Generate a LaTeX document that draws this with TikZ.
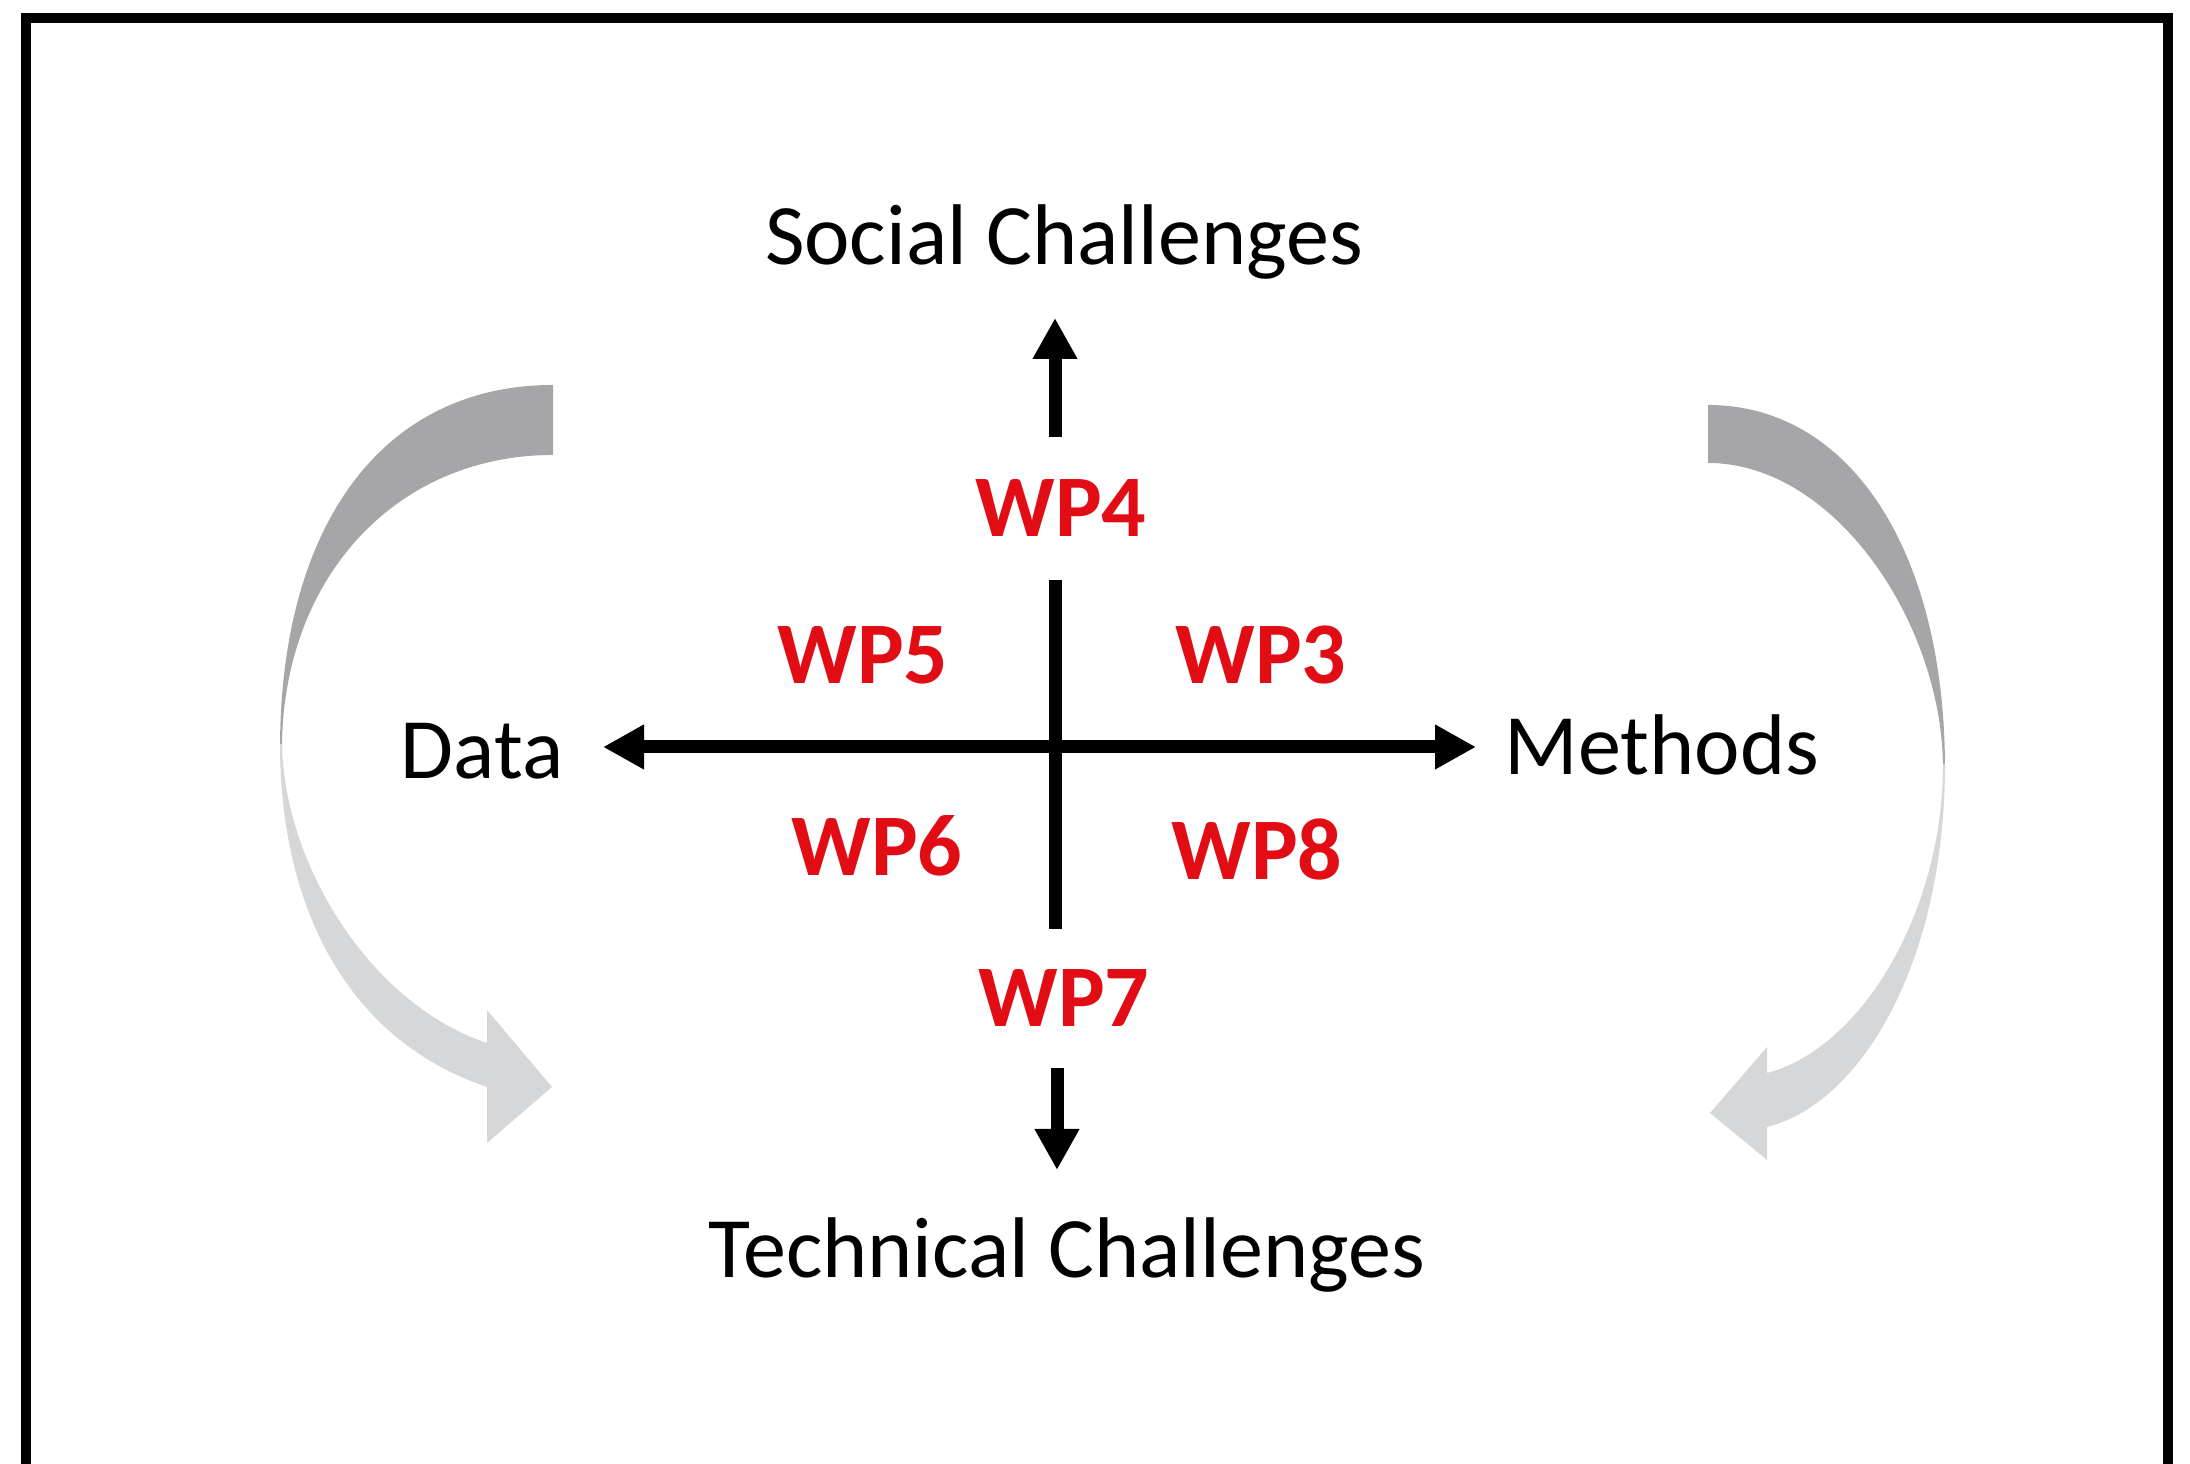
\documentclass[tikz,border=0pt]{standalone}
\usepackage{fontspec}
\setmainfont{Carlito}
\usetikzlibrary{arrows.meta}
\usetikzlibrary{positioning}
\definecolor{wpred}{RGB}{225,12,20}
\definecolor{darkband}{RGB}{166,166,168}
\definecolor{lightband}{RGB}{214,215,217}

\begin{document}
\begin{tikzpicture}[>={Triangle[width=4.2mm,length=4.1mm]},line width=1.3mm]
	\tikzstyle{axis label}=[font=\fontsize{24.5}{29}\selectfont,anchor=base,inner sep=0pt]
	\tikzstyle{wp}=[font=\fontsize{25}{30}\selectfont\bfseries,text=wpred,anchor=base,inner sep=0pt]

	\useasboundingbox (0,0) rectangle (21.9,14.64);
	\clip (0,0) rectangle (21.9,14.64);
	\draw[line width=1mm] (0.26,-1) rectangle (21.68,14.46);

	% left curved arrow
	\fill[darkband] (5.53,10.79) .. controls (3.84,10.79) and (2.80,9.41) .. (2.80,7.15)
		-- (2.82,7.15) .. controls (2.82,8.85) and (3.95,10.09) .. (5.53,10.09) -- cycle;
	\fill[lightband] (2.80,7.2) .. controls (2.80,5.6) and (3.45,4.25) .. (4.87,3.77)
		-- (4.87,3.21) -- (5.52,3.77) -- (4.87,4.54) -- (4.87,4.21)
		.. controls (3.70,4.60) and (2.84,6.00) .. (2.82,7.2) -- cycle;

	% right curved arrow
	\fill[darkband] (17.08,10.59) .. controls (18.50,10.59) and (19.45,9.13) .. (19.45,6.95)
		-- (19.43,6.95) .. controls (19.43,8.40) and (18.35,10.01) .. (17.08,10.01) -- cycle;
	\fill[lightband] (19.45,7.0) .. controls (19.45,5.0) and (18.60,3.60) .. (17.67,3.37)
		-- (17.67,3.04) -- (17.10,3.51) -- (17.67,4.17) -- (17.67,3.91)
		.. controls (18.60,4.15) and (19.43,5.50) .. (19.43,7.0) -- cycle;

	\node[axis label] (Social)    at (10.64,11.99) {Social Challenges};
	\node[axis label] (Technical) at (10.67,1.86)  {Technical Challenges};
	\node[axis label] (Data)      at (4.82,6.85)   {Data};
	\node[axis label] (Methods)   at (16.62,6.89)  {Methods};

	\node[wp] (WP_4) at (10.61,9.27) {WP4};
	\node[wp] (WP_5) at (8.63,7.80)  {WP5};
	\node[wp] (WP_3) at (12.61,7.80) {WP3};
	\node[wp] (WP_6) at (8.77,5.88)  {WP6};
	\node[wp] (WP_8) at (12.57,5.84) {WP8};
	\node[wp] (WP_7) at (10.64,4.37) {WP7};

	\coordinate (up_0)   at (10.55,10.27);
	\coordinate (up_1)   at (10.55,11.46);
	\coordinate (mid_0)  at (10.55,8.84);
	\coordinate (mid_1)  at (10.55,5.35);
	\coordinate (down_0) at (10.57,3.96);
	\coordinate (down_1) at (10.57,2.94);
	\coordinate (west)   at (6.03,7.17);
	\coordinate (east)   at (14.76,7.17);

	\draw[->] (up_0) -- (up_1);
	\draw (mid_0) -- (mid_1);
	\draw[->] (down_0) -- (down_1);
	\draw[<->] (west) -- (east);
\end{tikzpicture}
\end{document}
